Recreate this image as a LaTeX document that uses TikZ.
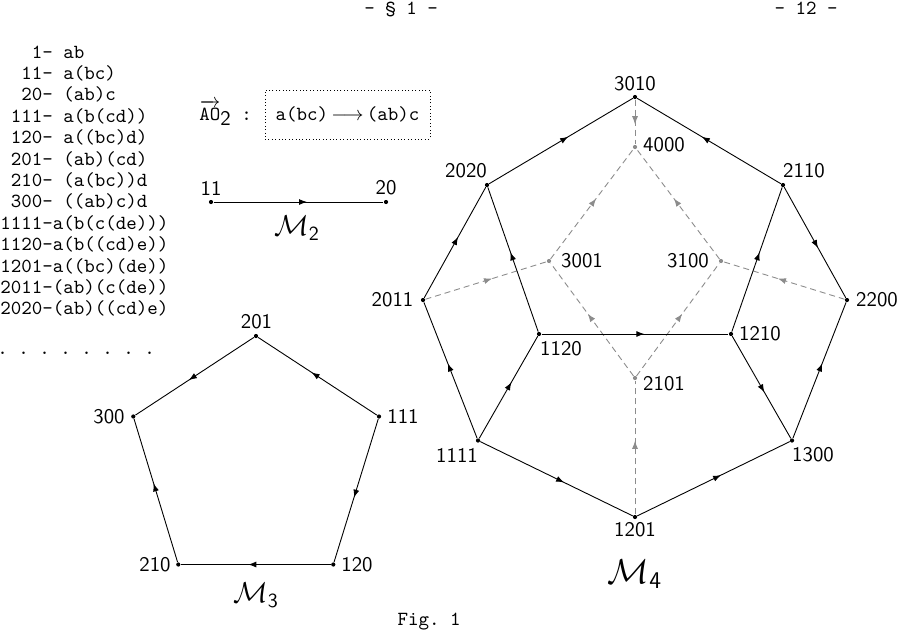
\documentclass[tikz,border=0pt]{standalone}
\usepackage{amsmath}
\usetikzlibrary{decorations.markings,arrows.meta}
\frenchspacing
\begin{document}
\begin{tikzpicture}[x=0.5pt,y=-0.5pt,
  vtx/.style={circle,fill=black,inner sep=0pt,minimum size=2.1pt},
  gvtx/.style={circle,fill=black!45,inner sep=0pt,minimum size=2.1pt},
  lab/.style={font=\fontsize{10.4}{12}\sffamily\selectfont,inner sep=0pt},
  tt/.style={font=\fontsize{10}{12}\ttfamily\selectfont,inner sep=0pt},
  mlab/.style={font=\fontsize{14}{16}\selectfont,inner sep=0pt},
  arr/.style={postaction={decorate},decoration={markings,mark=at position 0.55 with {\arrow{Latex[length=4pt,width=3pt]}}}},
  darr/.style={black!45,dash pattern=on 3pt off 2pt,arr},
  every path/.style={line width=0.45pt},
  ]
\useasboundingbox (0,0) rectangle (898,632);

% header and footer
\node[tt,anchor=base] (hd1) at (401,14) {- \S{} 1 -};
\node[tt,anchor=base] (hd2) at (806,14) {- 12 -};
\node[tt,anchor=base] (fig) at (429,625) {Fig. 1};

% list
\node[tt,anchor=base west] (L1) at (0,58) {\hphantom{000}1- ab};
\node[tt,anchor=base west] (L2) at (0,79.4) {\hphantom{00}11- a(bc)};
\node[tt,anchor=base west] (L3) at (0,100.8) {\hphantom{00}20- (ab)c};
\node[tt,anchor=base west] (L4) at (0,122.2) {\hphantom{0}111- a(b(cd))};
\node[tt,anchor=base west] (L5) at (0,143.6) {\hphantom{0}120- a((bc)d)};
\node[tt,anchor=base west] (L6) at (0,165) {\hphantom{0}201- (ab)(cd)};
\node[tt,anchor=base west] (L7) at (0,186.4) {\hphantom{0}210- (a(bc))d};
\node[tt,anchor=base west] (L8) at (0,207.8) {\hphantom{0}300- ((ab)c)d};
\node[tt,anchor=base west] (L9) at (0,229.2) {1111-a(b(c(de)))};
\node[tt,anchor=base west] (L10) at (0,250.6) {1120-a(b((cd)e))};
\node[tt,anchor=base west] (L11) at (0,272) {1201-a((bc)(de))};
\node[tt,anchor=base west] (L12) at (0,293.4) {2011-(ab)(c(de))};
\node[tt,anchor=base west] (L13) at (0,314.8) {2020-(ab)((cd)e)};
\node[tt,anchor=base west] (L14) at (-3,354) {. . . . . . . .};

% AO2 box
\node[tt,anchor=base west] (ao) at (199,120) {$\overrightarrow{\texttt{AO}}$\raisebox{-2.5pt}{\fontsize{10.4}{12}\sffamily 2} :};
\node[draw,dash pattern=on 0.5pt off 1.2pt,minimum width=82.5pt,minimum height=24.5pt,inner sep=0pt,
      font=\fontsize{10}{12}\ttfamily\selectfont] (box) at (347.5,114.5) {a(bc)\,$\longrightarrow$\,(ab)c};

% M2
\node[vtx] (n11) at (211,202) {};
\node[vtx] (n20) at (386,202) {};
\node[lab] (t11) at (211,188) {11};
\node[lab] (t20) at (386,188) {20};
\draw[arr] (n11) -- (n20);
\node[mlab] (M2) at (297,228) {$\mathcal{M}_{\mathsf{2}}$};

% M3
\node[vtx] (n201) at (256,336) {};
\node[vtx] (n111) at (379,416.5) {};
\node[vtx] (n120) at (333.3,564.5) {};
\node[vtx] (n210) at (178.3,564.5) {};
\node[vtx] (n300) at (133.3,416.5) {};
\node[lab] (t201) at (256.5,322) {201};
\node[lab] (t111) at (403,416.5) {111};
\node[lab] (t120) at (357,564.5) {120};
\node[lab] (t210) at (155,564.5) {210};
\node[lab] (t300) at (109,416.5) {300};
\draw[arr] (n111) -- (n201);
\draw[arr] (n201) -- (n300);
\draw[arr] (n111) -- (n120);
\draw[arr] (n120) -- (n210);
\draw[arr] (n210) -- (n300);
\node[mlab] (M3) at (256,595) {$\mathcal{M}_{\mathsf{3}}$};

% M4 vertices
\node[vtx] (n3010) at (635,97) {};
\node[gvtx] (n4000) at (635,147) {};
\node[vtx] (n2020) at (487,185) {};
\node[vtx] (n2110) at (783,185) {};
\node[gvtx] (n3001) at (549,261) {};
\node[gvtx] (n3100) at (721,261) {};
\node[vtx] (n2011) at (423,300) {};
\node[vtx] (n2200) at (847,300) {};
\node[vtx] (n1120) at (539,334) {};
\node[vtx] (n1210) at (731,334) {};
\node[gvtx] (n2101) at (635,378) {};
\node[vtx] (n1111) at (478,440.5) {};
\node[vtx] (n1300) at (792,440.5) {};
\node[vtx] (n1201) at (635,517) {};

\node[lab] (t3010) at (635,84) {3010};
\node[lab] (t4000) at (664,145) {4000};
\node[lab] (t2020) at (466,171) {2020};
\node[lab] (t2110) at (804,171) {2110};
\node[lab] (t3001) at (582,261) {3001};
\node[lab] (t3100) at (688,261) {3100};
\node[lab] (t2011) at (392.5,300) {2011};
\node[lab] (t2200) at (877,300) {2200};
\node[lab] (t1120) at (561,349) {1120};
\node[lab] (t1210) at (760,334) {1210};
\node[lab] (t2101) at (664,384) {2101};
\node[lab] (t1111) at (457,455) {1111};
\node[lab] (t1300) at (813,455) {1300};
\node[lab] (t1201) at (635,530) {1201};

% dashed gray edges
\draw[darr] (n3010) -- (n4000);
\draw[darr] (n3001) -- (n4000);
\draw[darr] (n3100) -- (n4000);
\draw[darr] (n2011) -- (n3001);
\draw[darr] (n2200) -- (n3100);
\draw[darr] (n2101) -- (n3001);
\draw[darr] (n2101) -- (n3100);
\draw[darr] (n1201) -- (n2101);

% solid edges
\draw[arr] (n2020) -- (n3010);
\draw[arr] (n2110) -- (n3010);
\draw[arr] (n2011) -- (n2020);
\draw[arr] (n1120) -- (n2020);
\draw[arr] (n1210) -- (n2110);
\draw[arr] (n2110) -- (n2200);
\draw[arr] (n1120) -- (n1210);
\draw[arr] (n1111) -- (n2011);
\draw[arr] (n1111) -- (n1120);
\draw[arr] (n1210) -- (n1300);
\draw[arr] (n1300) -- (n2200);
\draw[arr] (n1111) -- (n1201);
\draw[arr] (n1201) -- (n1300);

\node[font=\fontsize{17}{19}\selectfont,inner sep=0pt] (M4) at (635,574) {$\mathcal{M}_{\mathsf{4}}$};
\end{tikzpicture}
\end{document}
